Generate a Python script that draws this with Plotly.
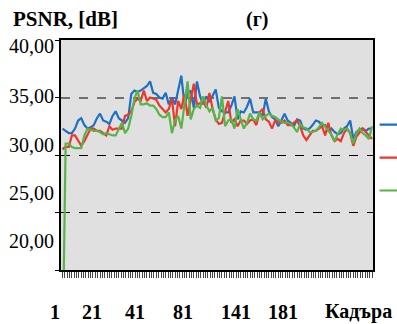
import plotly.graph_objects as go

# ---------------- data ----------------
frames = list(range(100))

psnr_blue = [32.3, 32.1, 31.9, 31.9, 32.3, 33.0, 33.2, 32.6, 32.3, 32.4,
             32.6, 33.2, 33.6, 33.0, 32.9, 32.7, 33.4, 33.8, 33.2, 33.0,
             32.8, 33.2, 35.3, 35.6, 35.5, 35.6, 35.8, 36.0, 36.4, 35.4,
             35.3, 35.0, 34.9, 35.4, 34.4, 35.0, 34.4, 35.6, 36.9, 34.4,
             35.3, 35.6, 34.1, 36.4, 35.1, 34.4, 35.1, 34.6, 35.1, 35.7,
             34.1, 33.8, 33.7, 33.7, 34.3, 35.1, 33.1, 33.8, 33.7, 34.2,
             34.9, 33.7, 33.7, 33.7, 33.4, 34.9, 33.8, 33.3, 33.1, 32.5,
             33.0, 33.6, 33.0, 32.8, 32.5, 33.1, 33.0, 32.3, 32.2, 32.3,
             32.6, 33.0, 32.9, 32.6, 32.6, 32.1, 32.3, 32.0, 31.8, 31.9,
             32.3, 32.5, 33.0, 31.4, 32.0, 32.2, 32.3, 32.1, 32.3, 32.3]

psnr_red = [30.5, 30.7, 30.7, 31.7, 31.7, 31.2, 30.8, 31.2, 31.8, 32.3,
            32.3, 32.1, 32.1, 31.9, 31.7, 32.5, 32.2, 32.3, 32.3, 32.3,
            33.4, 33.5, 33.8, 34.6, 34.9, 34.7, 35.6, 34.7, 35.0, 34.9,
            34.8, 34.3, 34.0, 33.7, 34.0, 34.9, 32.5, 34.7, 34.0, 35.3,
            33.4, 34.7, 36.2, 34.4, 34.5, 34.7, 34.1, 35.4, 34.0, 33.1,
            32.7, 32.8, 33.8, 34.7, 32.8, 33.1, 32.5, 33.0, 33.0, 32.7,
            33.0, 33.1, 32.6, 33.7, 34.0, 33.1, 32.9, 32.3, 33.0, 32.9,
            32.8, 33.0, 32.6, 32.6, 32.8, 33.0, 32.5, 31.7, 31.3, 31.7,
            32.1, 32.1, 32.3, 32.5, 31.7, 32.8, 31.7, 31.2, 31.4, 31.2,
            31.9, 32.3, 31.9, 30.8, 31.6, 32.0, 32.3, 32.0, 31.7, 31.4]

psnr_green = [12.0, 31.0, 31.0, 30.7, 30.6, 30.6, 30.6, 31.7, 32.3, 32.2,
              32.1, 32.1, 32.0, 31.8, 31.9, 31.8, 31.7, 31.7, 32.3, 32.8,
              31.9, 32.3, 33.4, 34.9, 35.6, 34.4, 34.4, 34.5, 34.3, 34.3,
              34.0, 33.5, 33.3, 33.3, 33.7, 31.9, 33.0, 33.4, 32.3, 34.4,
              36.4, 33.1, 34.0, 34.3, 34.1, 35.1, 34.3, 33.8, 34.1, 33.0,
              33.2, 35.1, 32.5, 33.0, 33.1, 32.3, 34.0, 33.1, 32.3, 32.8,
              33.6, 33.1, 33.0, 33.7, 33.1, 33.4, 33.6, 33.4, 33.3, 33.1,
              32.9, 32.8, 32.8, 32.7, 32.4, 32.0, 32.7, 32.4, 32.3, 32.0,
              32.0, 32.1, 32.4, 32.8, 32.4, 32.1, 31.8, 31.2, 31.8, 32.3,
              32.2, 32.3, 31.9, 31.0, 31.9, 32.3, 31.9, 31.7, 31.4, 32.5]

# legend texts lie outside the visible picture in the reference, so they are blank
series_names = ["", "", ""]

y_tick_vals = [20, 25, 30, 35, 40]
y_label_vals = [39.48, 35.09, 30.83, 26.70, 22.52]
y_label_text = ["40,00", "35,00", "30,00", "25,00", "20,00"]
frame_labels = ["1", "21", "41", "81", "141", "181", "Кадъра"]

# ---------------- figure ----------------
colors = ["#1f6fc5", "#f0352a", "#55b548"]
SERIF = "Liberation Serif"

fig = go.Figure()
for name, vals, col in zip(series_names, [psnr_blue, psnr_red, psnr_green], colors):
    fig.add_trace(go.Scatter(x=frames, y=vals, mode="lines", name=name,
                             line=dict(color=col, width=2.2)))

# invisible traces to activate the label axis and the 35-grid axis
fig.add_trace(go.Scatter(x=[frames[0]], y=[y_tick_vals[0]], yaxis="y2",
                         mode="markers", marker=dict(opacity=0),
                         showlegend=False, hoverinfo="skip"))
fig.add_trace(go.Scatter(x=[frames[0]], y=[y_tick_vals[0]], yaxis="y3",
                         mode="markers", marker=dict(opacity=0),
                         showlegend=False, hoverinfo="skip"))

fig.update_layout(
    width=397, height=324,
    margin=dict(l=61, r=24, t=40, b=54, autoexpand=False),
    paper_bgcolor="white",
    plot_bgcolor="#e0e0e0",
    font=dict(family=SERIF, size=20, color="black"),
    xaxis=dict(range=[-0.48, 99.3], showgrid=False, zeroline=False,
               showline=True, linecolor="black", linewidth=2, mirror=True,
               ticks="outside", tick0=0, dtick=0.75, ticklen=6,
               tickwidth=1, tickcolor="#444", showticklabels=False),
    yaxis=dict(range=[20, 40], tickvals=y_tick_vals, showticklabels=False,
               showline=True, linecolor="black", linewidth=2, mirror=True,
               ticks="outside", ticklen=4, tickcolor="black",
               showgrid=True, gridcolor="black", griddash="dash",
               gridwidth=1, zeroline=False),
    yaxis2=dict(range=[20, 40], overlaying="y", side="left",
                tickvals=y_label_vals, ticktext=y_label_text,
                ticks="", showgrid=False, zeroline=False, showline=False,
                ticklabelstandoff=6,
                tickfont=dict(family=SERIF, size=20, color="black")),
    yaxis3=dict(range=[20, 40], overlaying="y", side="right",
                tickvals=[35], showticklabels=False, ticks="",
                showgrid=True, gridcolor="#707070", griddash="dash",
                gridwidth=2, zeroline=False, showline=False),
    legend=dict(x=1.005, xanchor="left", y=0.725, yanchor="top",
                bgcolor="rgba(0,0,0,0)", font=dict(size=23),
                itemwidth=30),
    showlegend=True,
)

# title and labels
fig.add_annotation(text="<b>PSNR, [dB]</b>", xref="paper", yref="paper",
                   x=-0.16, y=1.091, xanchor="left", yanchor="middle",
                   showarrow=False, font=dict(family=SERIF, size=21))
fig.add_annotation(text="<b>(г)</b>", xref="paper", yref="paper",
                   x=0.628, y=1.091, xanchor="center", yanchor="middle",
                   showarrow=False, font=dict(family=SERIF, size=20))

label_x = [-0.0192, 0.0994, 0.2372, 0.391, 0.561, 0.7115, 0.952]
for lx, lt in zip(label_x, frame_labels):
    fig.add_annotation(text="<b>" + lt + "</b>", xref="paper", yref="paper",
                       x=lx, y=-0.2348, xanchor="center", yanchor="bottom",
                       borderpad=0, showarrow=False,
                       font=dict(family=SERIF, size=20))

fig.write_html("out.html")
